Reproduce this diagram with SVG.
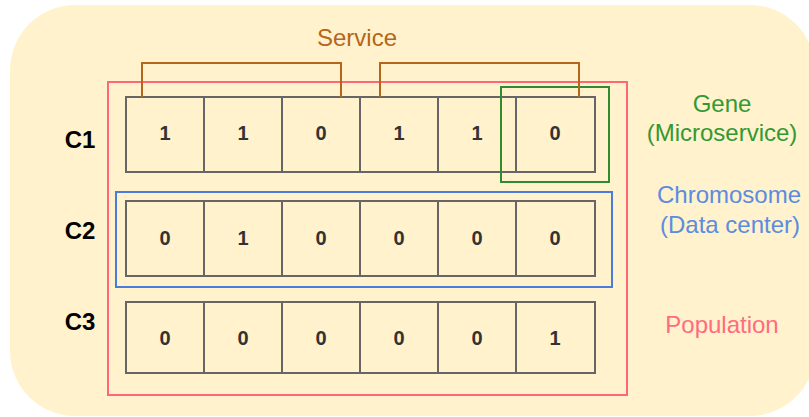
<svg xmlns="http://www.w3.org/2000/svg" width="809" height="417" viewBox="0 0 809 417">
  <style>
    .cell { fill: none; stroke: #666666; stroke-width: 2; }
    .digit { font-family: "Liberation Sans", Arial, sans-serif; font-size: 20px; font-weight: bold; fill: #333333; text-anchor: middle; }
    .clabel { font-family: "Liberation Sans", Arial, sans-serif; font-size: 24px; font-weight: bold; fill: #000000; text-anchor: middle; }
    .lbl { font-family: "Liberation Sans", Arial, sans-serif; font-size: 24px; text-anchor: middle; }
    .svc { fill: none; stroke: #b5661b; stroke-width: 2; }
  </style>
  <rect id="background" x="10" y="5" width="805" height="411" rx="65" ry="65" fill="#fff2cc"/>

  <g id="population">
    <rect x="108" y="82" width="519" height="313" fill="none" stroke="#ff6677" stroke-width="2"/>
    <text class="lbl" x="722" y="333" fill="#ff6b81">Population</text>
  </g>

  <g id="chromosome">
    <rect x="116" y="192" width="496" height="95" fill="none" stroke="#4a7ddb" stroke-width="2"/>
    <text class="lbl" x="729" y="203" fill="#5b8ce0">Chromosome</text>
    <text class="lbl" x="730" y="233" fill="#5b8ce0">(Data center)</text>
  </g>

  <g id="row-c1">
    <text class="clabel" x="80" y="148">C1</text>
    <rect class="cell" x="126" y="97" width="78" height="75"/>
    <rect class="cell" x="204" y="97" width="78" height="75"/>
    <rect class="cell" x="282" y="97" width="78" height="75"/>
    <rect class="cell" x="360" y="97" width="78" height="75"/>
    <rect class="cell" x="438" y="97" width="78" height="75"/>
    <rect class="cell" x="516" y="97" width="79" height="75"/>
    <text class="digit" x="165" y="140">1</text>
    <text class="digit" x="243" y="140">1</text>
    <text class="digit" x="321" y="140">0</text>
    <text class="digit" x="399" y="140">1</text>
    <text class="digit" x="477" y="140">1</text>
    <text class="digit" x="555" y="140">0</text>
  </g>

  <g id="row-c2">
    <text class="clabel" x="80" y="239">C2</text>
    <rect class="cell" x="126" y="201" width="78" height="75"/>
    <rect class="cell" x="204" y="201" width="78" height="75"/>
    <rect class="cell" x="282" y="201" width="78" height="75"/>
    <rect class="cell" x="360" y="201" width="78" height="75"/>
    <rect class="cell" x="438" y="201" width="78" height="75"/>
    <rect class="cell" x="516" y="201" width="79" height="75"/>
    <text class="digit" x="165" y="245">0</text>
    <text class="digit" x="243" y="245">1</text>
    <text class="digit" x="321" y="245">0</text>
    <text class="digit" x="399" y="245">0</text>
    <text class="digit" x="477" y="245">0</text>
    <text class="digit" x="555" y="245">0</text>
  </g>

  <g id="row-c3">
    <text class="clabel" x="80" y="330">C3</text>
    <rect class="cell" x="126" y="302" width="78" height="71"/>
    <rect class="cell" x="204" y="302" width="78" height="71"/>
    <rect class="cell" x="282" y="302" width="78" height="71"/>
    <rect class="cell" x="360" y="302" width="78" height="71"/>
    <rect class="cell" x="438" y="302" width="78" height="71"/>
    <rect class="cell" x="516" y="302" width="79" height="71"/>
    <text class="digit" x="165" y="345">0</text>
    <text class="digit" x="243" y="345">0</text>
    <text class="digit" x="321" y="345">0</text>
    <text class="digit" x="399" y="345">0</text>
    <text class="digit" x="477" y="345">0</text>
    <text class="digit" x="555" y="345">1</text>
  </g>

  <g id="gene">
    <rect x="501" y="87" width="108" height="95" fill="none" stroke="#2e8b2e" stroke-width="2"/>
    <text class="lbl" x="722" y="112" fill="#339933">Gene</text>
    <text class="lbl" x="722" y="141" fill="#339933">(Microservice)</text>
  </g>

  <g id="service">
    <text class="lbl" x="357" y="46" fill="#b5661b">Service</text>
  </g>

  <g id="connectors">
    <polyline class="svc" points="142,97 142,63 341,63 341,97"/>
    <polyline class="svc" points="380,97 380,63 579,63 579,97"/>
  </g>
</svg>
